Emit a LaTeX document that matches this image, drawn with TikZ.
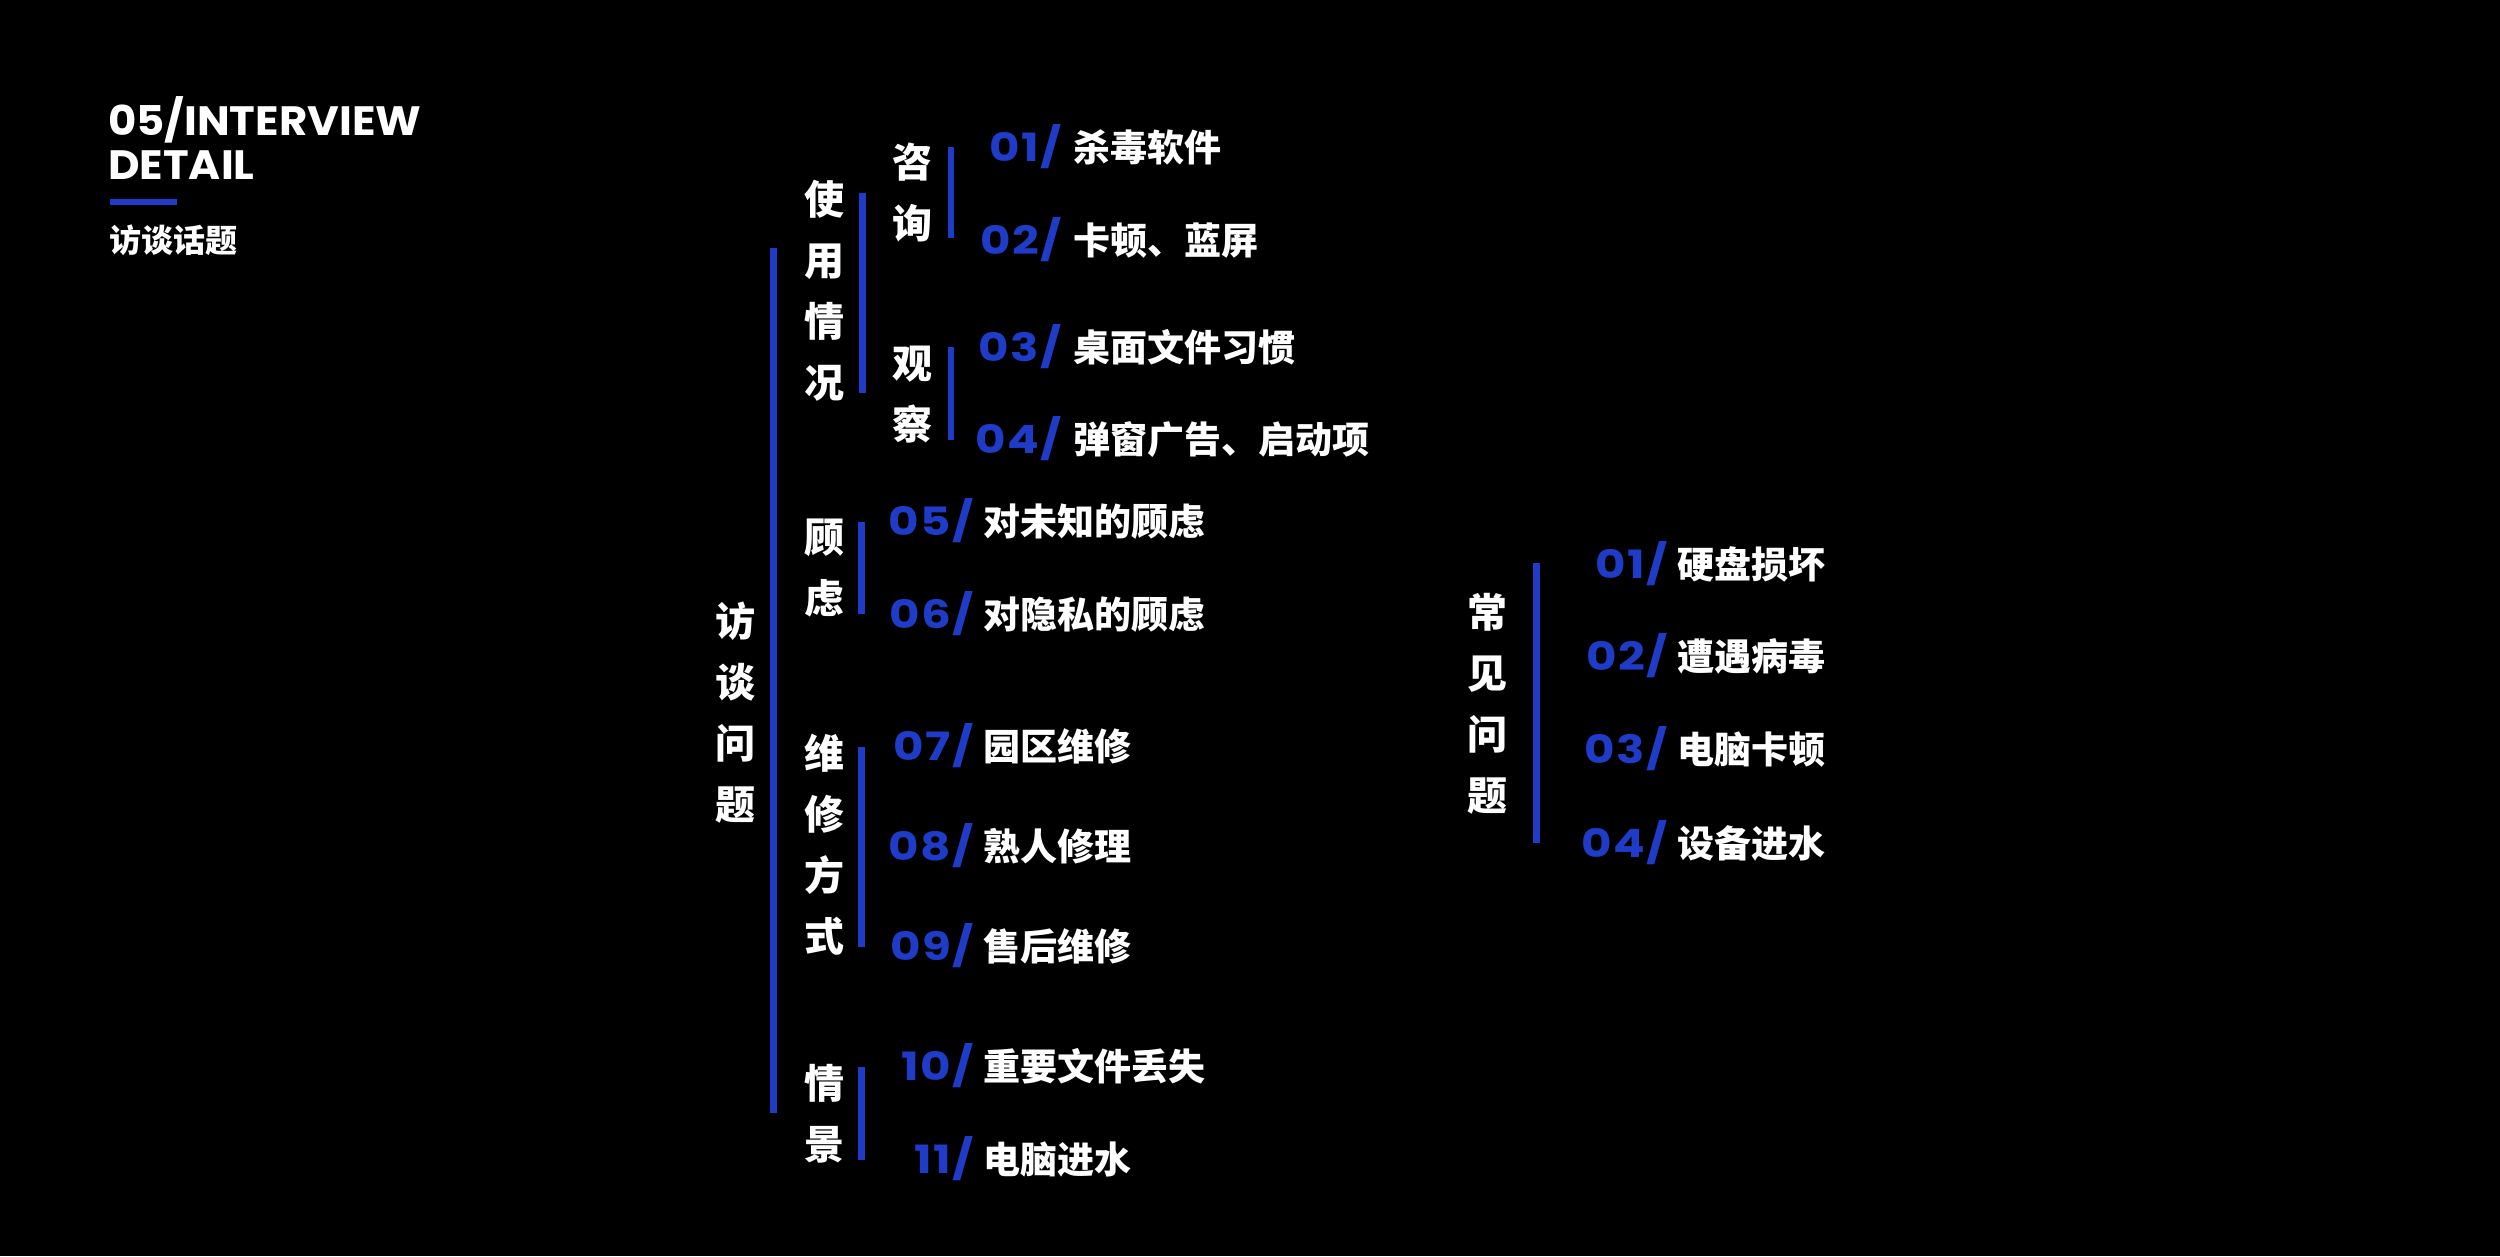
\documentclass[tikz,border=0pt]{standalone}
\usepackage{fontspec}
\setmainfont{Poppins}
\newfontfamily\cjkf{Noto Sans CJK SC}
\newfontfamily\numfnt{Poppins}[FakeStretch=1.2,LetterSpace=4]
\newfontfamily\headfnt{Poppins}[FakeStretch=1.06]
\definecolor{bl}{HTML}{1F3CC8}
\begin{document}
\begin{tikzpicture}[x=1pt,y=-1pt,
  cat/.style={text=white, font=\cjkf\bfseries\fontsize{40}{61}\selectfont, align=center, inner sep=0pt},
  numlab/.style={text=bl, font=\numfnt\bfseries\fontsize{39}{39}\selectfont, anchor=base east, inner sep=0pt},
  itemlab/.style={text=white, font=\cjkf\bfseries\fontsize{37}{37}\selectfont, anchor=base west, inner sep=0pt},
  bar/.style={draw=bl, line width=7pt},
  head/.style={text=white, font=\headfnt\bfseries\fontsize{41}{41}\selectfont, anchor=base west, inner sep=0pt}]
\fill[black] (0,0) rectangle (2500,1256);
\useasboundingbox (0,0) rectangle (2500,1256);
% header
\node[head] (h1) at (108,135) {05/INTERVIEW};
\node[head] (h2) at (108,179) {DETAIL};
\fill[bl] (110,199) rectangle (177,205);
\node[text=white, font=\cjkf\bfseries\fontsize{32}{32}\selectfont, anchor=base west, inner sep=0pt] (h3) at (109,252) {访谈话题};
% categories
\node[cat] (root) at (735.5,712.5) {访\\谈\\问\\题};
\node[cat] (c1) at (824,290.5) {使\\用\\情\\况};
\node[cat] (c1a) at (912,192.5) {咨\\询};
\node[cat] (c1b) at (912,395) {观\\察};
\node[cat] (c2) at (824,568.5) {顾\\虑};
\node[cat] (c3) at (824,844.5) {维\\修\\方\\式};
\node[cat] (c4) at (824,1113.5) {情\\景};
\node[cat] (r) at (1487.5,703.5) {常\\见\\问\\题};
% bars
\coordinate (b0a) at (773,248);   \coordinate (b0b) at (773,1113);
\coordinate (b1a) at (862,193);   \coordinate (b1b) at (862,393);
\coordinate (b1c) at (951,147);   \coordinate (b1d) at (951,238);
\coordinate (b1e) at (951,347);   \coordinate (b1f) at (951,440);
\coordinate (b2a) at (861.5,522); \coordinate (b2b) at (861.5,614);
\coordinate (b3a) at (861.5,747); \coordinate (b3b) at (861.5,947);
\coordinate (b4a) at (861.5,1067);\coordinate (b4b) at (861.5,1160);
\coordinate (bra) at (1536.5,563);\coordinate (brb) at (1536.5,843);
\draw[bar] (b0a) -- (b0b);
\draw[bar] (b1a) -- (b1b);
\draw[bar,line width=6pt] (b1c) -- (b1d);
\draw[bar,line width=6pt] (b1e) -- (b1f);
\draw[bar] (b2a) -- (b2b);
\draw[bar] (b3a) -- (b3b);
\draw[bar] (b4a) -- (b4b);
\draw[bar] (bra) -- (brb);
% items
\node[numlab] (n01) at (1062,161) {01/}; \node[itemlab] (t01) at (1073,161) {杀毒软件};
\node[numlab] (n02) at (1062,254) {02/}; \node[itemlab] (t02) at (1073,254) {卡顿、蓝屏};
\node[numlab] (n03) at (1062,361) {03/}; \node[itemlab] (t03) at (1073,361) {桌面文件习惯};
\node[numlab] (n04) at (1062,453) {04/}; \node[itemlab] (t04) at (1073,453) {弹窗广告、启动项};
\node[numlab] (n05) at (974,535) {05/}; \node[itemlab] (t05) at (983,535) {对未知的顾虑};
\node[numlab] (n06) at (974,628) {06/}; \node[itemlab] (t06) at (983,628) {对隐私的顾虑};
\node[numlab] (n07) at (974,760) {07/}; \node[itemlab] (t07) at (983,760) {园区维修};
\node[numlab] (n08) at (974,860) {08/}; \node[itemlab] (t08) at (983,860) {熟人修理};
\node[numlab] (n09) at (974,960) {09/}; \node[itemlab] (t09) at (983,960) {售后维修};
\node[numlab] (n10) at (974,1080) {10/}; \node[itemlab] (t10) at (983,1080) {重要文件丢失};
\node[numlab] (n11) at (974,1173) {11/}; \node[itemlab] (t11) at (983,1173) {电脑进水};
\node[numlab] (m01) at (1668,578) {01/}; \node[itemlab] (s01) at (1677,578) {硬盘损坏};
\node[numlab] (m02) at (1668,670) {02/}; \node[itemlab] (s02) at (1677,670) {遭遇病毒};
\node[numlab] (m03) at (1668,763) {03/}; \node[itemlab] (s03) at (1677,763) {电脑卡顿};
\node[numlab] (m04) at (1668,857) {04/}; \node[itemlab] (s04) at (1677,857) {设备进水};
\end{tikzpicture}
\end{document}
